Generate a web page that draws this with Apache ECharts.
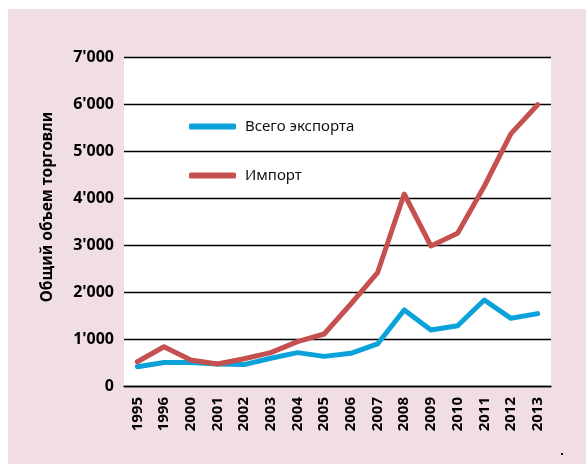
<!DOCTYPE html>
<html>
<head>
<meta charset="utf-8">
<script src="https://cdn.jsdelivr.net/npm/echarts@6/dist/echarts.min.js"></script>
<style>
html,body{margin:0;padding:0;background:#ffffff;}
#chart{width:586px;height:464px;}
</style>
</head>
<body>
<div id="chart"></div>
<script>
var years = ['1995','1996','2000','2001','2002','2003','2004','2005','2006','2007','2008','2009','2010','2011','2012','2013'];
var exportValues = [410, 500, 500, 470, 455, 590, 710, 630, 695, 895, 1617, 1190, 1283, 1830, 1440, 1540];
var importValues = [517, 836, 553, 468, 580, 710, 943, 1106, 1745, 2410, 4085, 2979, 3249, 4250, 5370, 5985];
var yTicks = [0, 1000, 2000, 3000, 4000, 5000, 6000, 7000];
var seriesNames = ['Всего экспорта', 'Импорт'];
var yAxisTitle = 'Общий объем торговли';

var FONT = 'Noto Sans';
var chart = echarts.init(document.getElementById('chart'), null, {renderer: 'canvas'});
function fmt(v) {
  if (v === 0) return '0';
  var s = String(v);
  return s.slice(0, s.length - 3) + "'" + s.slice(s.length - 3);
}
chart.setOption({
  animation: false,
  backgroundColor: '#ffffff',
  graphic: [
    {type: 'rect', z: -10, shape: {x: 8, y: 9, width: 578, height: 455}, style: {fill: '#f0dde5'}},
    {type: 'rect', z: -9, shape: {x: 124, y: 57, width: 427, height: 329}, style: {fill: '#ffffff'}},
    {type: 'text', x: 47.5, y: 207, rotation: Math.PI / 2, style: {text: yAxisTitle, font: 'bold 15.5px "Noto Sans"', fill: '#000', align: 'center', verticalAlign: 'middle'}},
    {type: 'rect', shape: {x: 561, y: 453, width: 2, height: 2}, style: {fill: '#000'}}
  ],
  grid: {left: 124, top: 57, width: 427, height: 329, containLabel: false},
  legend: [
    {data: [seriesNames[0]], left: 189, top: 119, padding: 0, itemWidth: 47, itemHeight: 6, icon: 'roundRect', itemGap: 0,
     textStyle: {fontFamily: FONT, fontSize: 15, color: '#111', padding: [0, 0, 0, 4]}},
    {data: [seriesNames[1]], left: 189, top: 168, padding: 0, itemWidth: 47, itemHeight: 6, icon: 'roundRect', itemGap: 0,
     textStyle: {fontFamily: FONT, fontSize: 15, color: '#111', padding: [0, 0, 0, 4]}}
  ],
  xAxis: {
    type: 'category', data: years, boundaryGap: true,
    axisLine: {show: true, lineStyle: {color: '#000', width: 1.3}},
    axisTick: {show: false},
    axisLabel: {rotate: 90, margin: 11, fontFamily: FONT, fontWeight: 'bold', fontSize: 15, color: '#000', interval: 0}
  },
  yAxis: {
    type: 'value', min: yTicks[0], max: yTicks[yTicks.length - 1], interval: 1000,
    axisLine: {show: false}, axisTick: {show: false},
    splitLine: {show: true, lineStyle: {color: '#000', width: 1.3}},
    axisLabel: {margin: 10, fontFamily: FONT, fontWeight: 'bold', fontSize: 16, color: '#000', formatter: fmt}
  },
  series: [
    {name: seriesNames[0], type: 'line', data: exportValues, symbol: 'none', color: '#0aa2d8',
     lineStyle: {width: 5, color: '#0aa2d8', cap: 'round', join: 'round'}},
    {name: seriesNames[1], type: 'line', data: importValues, symbol: 'none', color: '#c4504f',
     lineStyle: {width: 5, color: '#c4504f', cap: 'round', join: 'round'}}
  ]
});
</script>
</body>
</html>
